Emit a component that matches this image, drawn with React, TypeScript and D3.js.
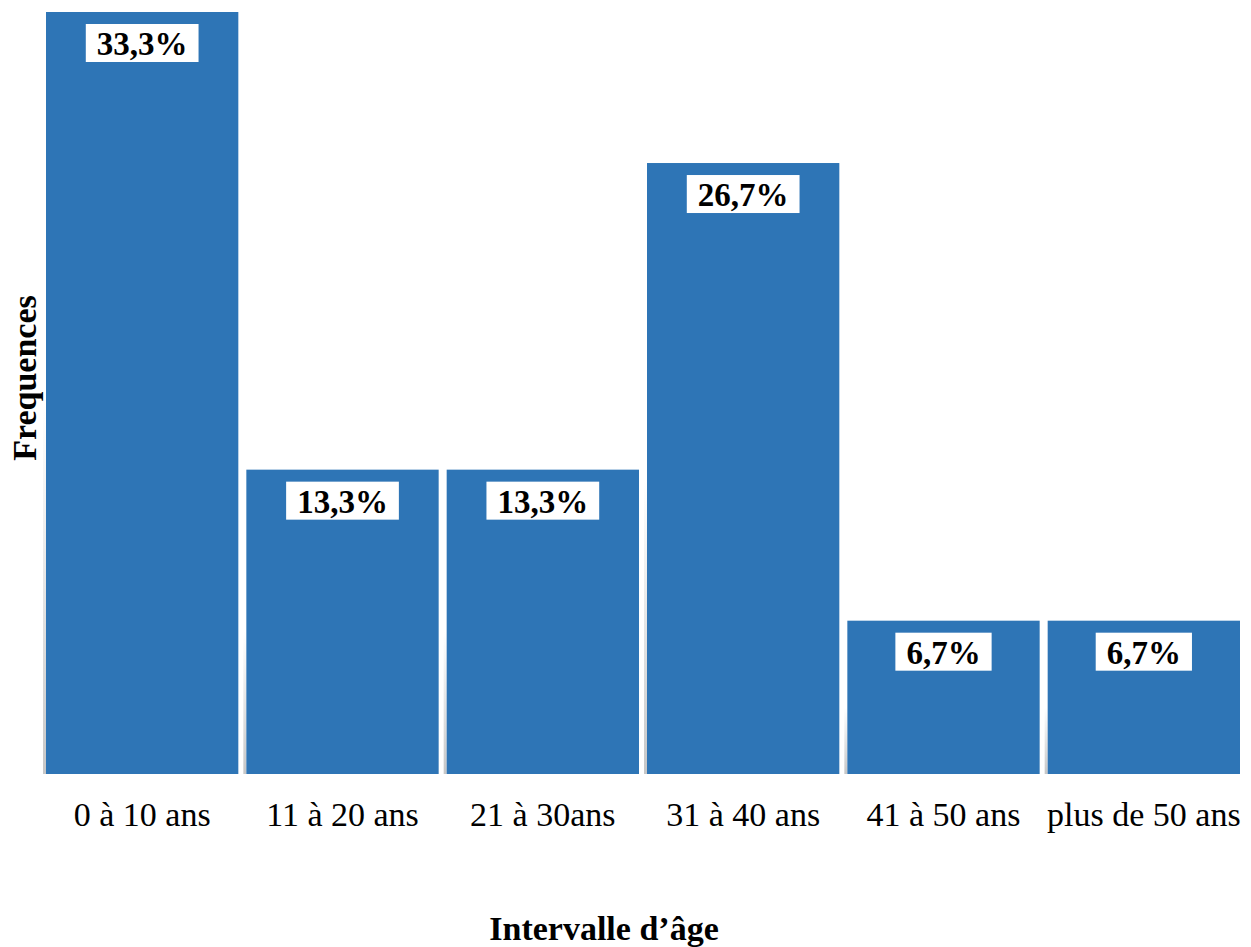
import React from "react";
import * as d3 from "d3";

const categories = ["0 à 10 ans", "11 à 20 ans", "21 à 30ans", "31 à 40 ans", "41 à 50 ans", "plus de 50 ans"];
const values = [33.3, 13.3, 13.3, 26.7, 6.7, 6.7];
const valueLabels = ["33,3%", "13,3%", "13,3%", "26,7%", "6,7%", "6,7%"];
const xTitle = "Intervalle d’âge";
const yTitle = "Frequences";

const W = 1251;
const H = 947;
const FONT = "'Liberation Serif', 'Times New Roman', serif";
const BLUE = "#2E75B6";

export default function App() {
  const x = d3.scaleBand<string>().domain(categories).range([42, 1244]).paddingInner(0.04).paddingOuter(0.02);
  const y = d3.scaleLinear().domain([0, 33.3]).range([774, 12]);
  const labelFont = 33;
  const charW = (s: string) => {
    let w = 0;
    for (const c of s) {
      if (c === ",") w += 0.25;
      else if (c === "%") w += 1.0;
      else w += 0.5;
    }
    return w * labelFont;
  };
  return (
    <svg width={W} height={H} style={{ position: "absolute", left: 0, top: 0, background: "#fff" }}>
      <defs>
        <linearGradient id="shade" x1="0" y1="0" x2="0" y2="1">
          <stop offset="0" stopColor="#c8c8c8" stopOpacity="0" />
          <stop offset="0.5" stopColor="#c8c8c8" stopOpacity="0" />
          <stop offset="1" stopColor="#c0c0c0" stopOpacity="0.9" />
        </linearGradient>
      </defs>
      {categories.map((c, i) => {
        const x0 = x(c)!;
        const bw = x.bandwidth();
        const top = y(values[i]);
        const bottom = y(0);
        const tw = charW(valueLabels[i]);
        const boxW = tw + 22;
        const cx = x0 + bw / 2;
        return (
          <g key={c}>
            <rect x={x0 - 3} y={top + 20} width={3} height={bottom - top - 20} fill="url(#shade)" />
            <rect x={x0} y={top} width={bw} height={bottom - top} fill={BLUE} />
            <rect x={cx - boxW / 2} y={top + 12} width={boxW} height={38} fill="#fff" />
            <text x={cx} y={top + 43} textAnchor="middle" fontFamily={FONT} fontWeight="bold" fontSize={labelFont} fill="#000">
              {valueLabels[i]}
            </text>
            <text x={cx} y={826} textAnchor="middle" fontFamily={FONT} fontSize={34} fill="#000">
              {c}
            </text>
          </g>
        );
      })}
      <text x={604} y={940} textAnchor="middle" fontFamily={FONT} fontWeight="bold" fontSize={34} fill="#000">
        {xTitle}
      </text>
      <text
        transform={`translate(36, 378) rotate(-90)`}
        textAnchor="middle"
        fontFamily={FONT}
        fontWeight="bold"
        fontSize={34}
        fill="#000"
      >
        {yTitle}
      </text>
    </svg>
  );
}
